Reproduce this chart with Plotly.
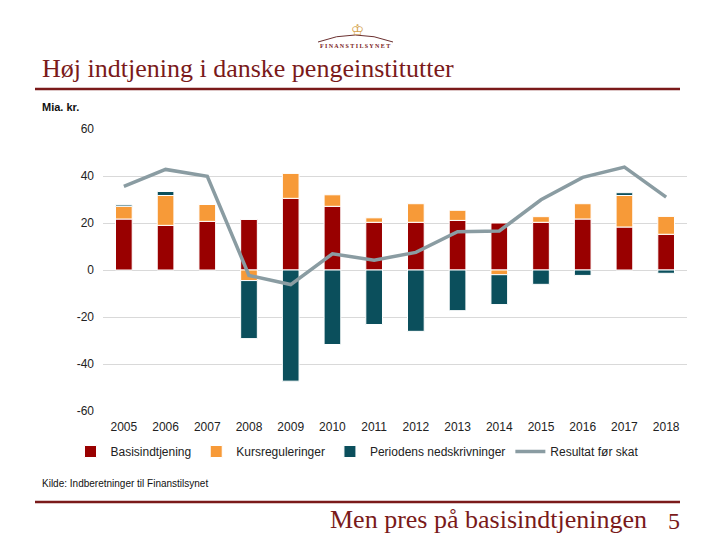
import plotly.graph_objects as go

years = ["2005", "2006", "2007", "2008", "2009", "2010", "2011",
         "2012", "2013", "2014", "2015", "2016", "2017", "2018"]
basisindtjening = [21.7, 19.0, 20.7, 21.5, 30.5, 27.1, 20.3,
                   20.3, 21.1, 20.0, 20.3, 21.7, 18.3, 15.2]
kursreguleringer = [5.4, 12.7, 7.2, -4.5, 10.6, 4.9, 1.9,
                    7.9, 4.3, -2.0, 2.4, 6.5, 13.4, 7.6]
nedskrivninger = [0.6, 1.7, 0.0, -24.7, -47.3, -31.7, -23.2,
                  -26.1, -17.3, -12.7, -6.1, -2.3, 1.2, -1.4]
resultat = [35.6, 42.8, 39.9, -2.3, -6.2, 6.9, 4.2,
            7.5, 16.3, 16.6, 29.9, 39.4, 43.8, 31.0]
y_ticks = [-60, -40, -20, 0, 20, 40, 60]
y_tick_labels = ["-60", "-40", "-20", "0", "20", "40", "60"]

RED = "#990000"
ORANGE = "#F79A38"
TEAL = "#0B4F5C"
GREY = "#8A9CA2"
TITLE_RED = "#7A1A1A"

fig = go.Figure()
fig.add_trace(go.Bar(x=years, y=basisindtjening, name="Basisindtjening",
                     marker=dict(color=RED, line=dict(color="white", width=1))))
fig.add_trace(go.Bar(x=years, y=kursreguleringer, name="Kursreguleringer",
                     marker=dict(color=ORANGE, line=dict(color="white", width=1))))
fig.add_trace(go.Bar(x=years, y=nedskrivninger, name="Periodens nedskrivninger",
                     marker=dict(color=TEAL, line=dict(color="white", width=1))))
fig.add_trace(go.Scatter(x=years, y=resultat, name="Resultat før skat", mode="lines",
                         line=dict(color=GREY, width=3.5)))

PL, PR, PT, PB = 103, 687, 129, 411
PW, PH = PR - PL, PB - PT

def px(xp, yp):
    return (xp - PL) / PW, (PB - yp) / PH

lx, ly = px(357, 437)

fig.update_layout(
    width=720, height=540,
    paper_bgcolor="white", plot_bgcolor="white",
    margin=dict(l=PL, r=720 - PR, t=PT, b=540 - PB),
    barmode="relative", bargap=0.6,
    font=dict(family="Liberation Sans, Arial, sans-serif", size=12, color="#222"),
    showlegend=True,
    legend=dict(orientation="h", x=lx, xanchor="center", y=ly, yanchor="top",
                font=dict(size=12, color="#222"), traceorder="normal",
                itemwidth=30),
    xaxis=dict(showgrid=False, showline=False, ticks="", tickfont=dict(size=12),
               ticklabelstandoff=7),
    yaxis=dict(range=[-60, 60], tickvals=y_ticks, ticktext=y_tick_labels,
               showgrid=True, gridcolor="#D9D9D9",
               gridwidth=1, zeroline=False, showline=False, ticks="",
               tickfont=dict(size=12), ticklabelstandoff=8),
)

x0, _ = px(35, 0)
x1, _ = px(680, 0)
_, yr1 = px(0, 89)
_, yr2 = px(0, 502)
ax0, ay0 = px(318, 42)
axm, aym = px(355, 28)
ax1, ay1 = px(393, 42)
fig.update_layout(shapes=[
    dict(type="line", xref="paper", yref="paper", x0=x0, x1=x1, y0=yr1, y1=yr1,
         line=dict(color=TITLE_RED, width=2.5)),
    dict(type="line", xref="paper", yref="paper", x0=x0, x1=x1, y0=yr2, y1=yr2,
         line=dict(color=TITLE_RED, width=2.5)),
    dict(type="path", xref="paper", yref="paper",
         path="M {:.4f} {:.4f} Q {:.4f} {:.4f} {:.4f} {:.4f}".format(ax0, ay0, axm, aym, ax1, ay1),
         line=dict(color="#6b3030", width=1)),
])

annos = []
def add(xp, yp, text, size, family, color, anchor="left"):
    x, y = px(xp, yp)
    annos.append(dict(x=x, y=y, xref="paper", yref="paper", xanchor=anchor, yanchor="middle",
                      text=text, showarrow=False,
                      font=dict(family=family, size=size, color=color)))

SERIF = "Liberation Serif, serif"
SANS = "Liberation Sans, Arial"
add(40, 69, "Høj indtjening i danske pengeinstitutter", 26, SERIF, TITLE_RED)
add(40, 107, "<b>Mia. kr.</b>", 11, SANS, "#111")
add(40, 484, "Kilde: Indberetninger til Finanstilsynet", 10, SANS, "#111")
add(649, 519, "Men pres på basisindtjeningen", 26, SERIF, TITLE_RED, "right")
add(674, 521, "5", 24, SERIF, TITLE_RED, "center")
add(355, 46, "<b>F I N A N S T I L S Y N E T</b>", 6, SERIF, TITLE_RED, "center")
add(357, 30, "♔", 15, "DejaVu Sans", "#D4A24A", "center")
fig.update_layout(annotations=annos)

fig.write_html("out.html", config={"displayModeBar": False},
               post_script="document.body.style.margin='0';document.body.style.padding='0';")
